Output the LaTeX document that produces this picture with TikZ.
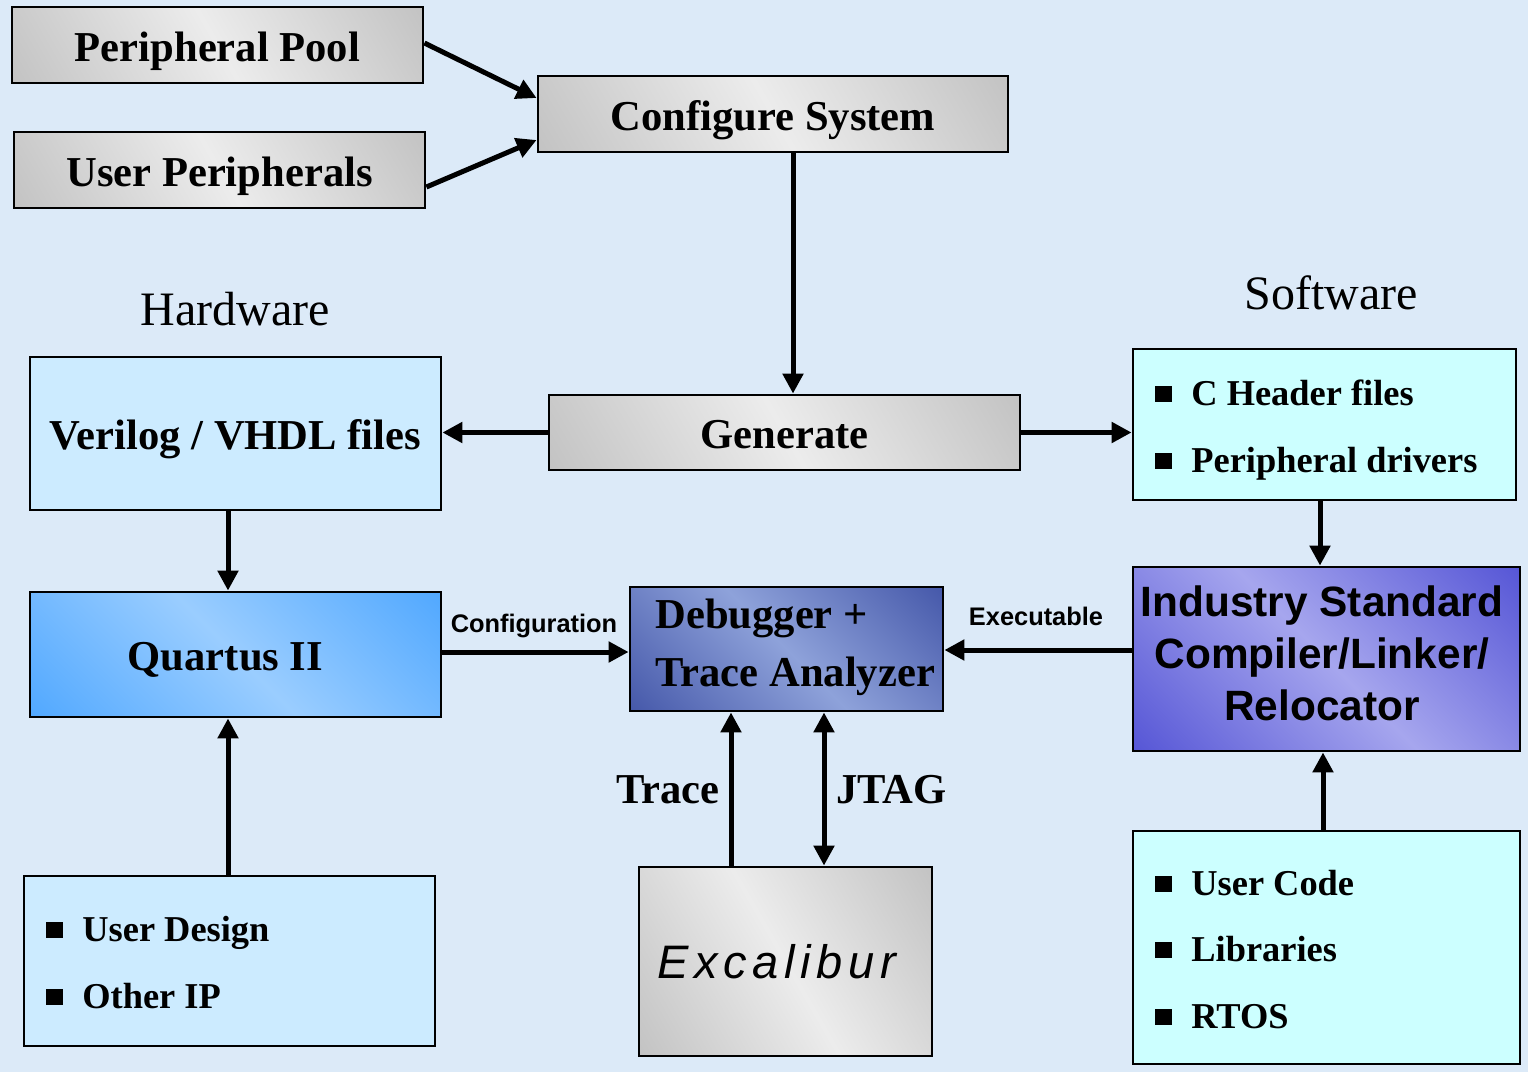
\documentclass[tikz,border=0pt]{standalone}
\usepackage{fontspec}
\setmainfont{Liberation Serif}
\newfontfamily\arialf{Liberation Sans}
\newfontfamily\excf[LetterSpace=12]{Liberation Sans}
\usetikzlibrary{arrows.meta}
\definecolor{bgc}{HTML}{DCEAF8}
\definecolor{verc}{HTML}{CCEBFF}
\definecolor{chc}{HTML}{CCFFFF}
\definecolor{gdark}{HTML}{B0B0B0}
\definecolor{glight}{HTML}{ECECEC}
\definecolor{qdark}{HTML}{3399FF}
\definecolor{qlight}{HTML}{9ACDFF}
\definecolor{ddark}{HTML}{283A96}
\definecolor{dlight}{HTML}{8EA2DA}
\definecolor{idark}{HTML}{3535CC}
\definecolor{ilight}{HTML}{A6A6EE}
\pgfdeclarehorizontalshading{grayshade}{100bp}{color(0bp)=(gdark); color(50bp)=(glight); color(100bp)=(gdark)}
\pgfdeclarehorizontalshading{qushade}{100bp}{color(0bp)=(qdark); color(50bp)=(qlight); color(100bp)=(qdark)}
\pgfdeclarehorizontalshading{dbgshade}{100bp}{color(0bp)=(ddark); color(50bp)=(dlight); color(100bp)=(ddark)}
\pgfdeclarehorizontalshading{indshade}{100bp}{color(0bp)=(idark); color(50bp)=(ilight); color(100bp)=(idark)}
\newcommand\mybul{\rule[1.5pt]{8.5pt}{8pt}\hspace{9.5pt}}
\begin{document}
\begin{tikzpicture}[x=0.5pt, y=-0.5pt,
  box/.style={draw=black, line width=1.4pt, inner sep=0pt, text height=19pt, text depth=3pt,
    font=\fontsize{21.3}{25}\selectfont\bfseries},
  graybox/.style={shading=grayshade, shading angle=30},
  qubox/.style={shading=qushade, shading angle=45},
  dbgbox/.style={shading=dbgshade, shading angle=45},
  indbox/.style={shading=indshade, shading angle=45},
  btxt/.style={inner sep=0pt, font=\fontsize{21.3}{25}\selectfont\bfseries},
  itxt/.style={inner sep=0pt, font=\fontsize{21.2}{25}\selectfont\arialf\bfseries},
  bul/.style={inner sep=0pt, anchor=base west, font=\fontsize{18.2}{22}\selectfont\bfseries},
  side/.style={inner sep=0pt, anchor=base, font=\fontsize{24}{28}\selectfont},
  small/.style={inner sep=0pt, anchor=base, font=\fontsize{12.7}{15}\selectfont\arialf\bfseries},
  arr/.style={line width=2.5pt, -{Triangle[length=10pt,width=10pt]}},
  darr/.style={line width=2.5pt, {Triangle[length=10pt,width=10pt]}-{Triangle[length=10pt,width=10pt]}}
]
\fill[bgc] (0,0) rectangle (1528,1072);

% boxes
\node[box, graybox, minimum width=205.5pt, minimum height=38pt] (pp) at (217.5,45) {Peripheral Pool};
\node[box, graybox, minimum width=205.5pt, minimum height=38pt] (up) at (219.5,170) {User Peripherals};
\node[box, graybox, minimum width=235pt, minimum height=38pt] (cs) at (773,114) {Configure System};
\node[box, graybox, minimum width=235.5pt, minimum height=37.5pt] (gen) at (784.5,432.5) {Generate};
\node[box, fill=verc, minimum width=205.5pt, minimum height=76.5pt] (ver) at (235.5,433.5) {Verilog / VHDL files};
\node[box, fill=chc, minimum width=191.5pt, minimum height=75.5pt] (ch) at (1324.5,424.5) {};
\node[box, qubox, minimum width=205.5pt, minimum height=62.5pt] (qu) at (235.5,654.5) {Quartus II\hspace*{10pt}};
\node[box, dbgbox, minimum width=156.5pt, minimum height=62pt] (dbg) at (786.5,649) {};
\node[box, indbox, minimum width=193.5pt, minimum height=92pt] (ind) at (1326.5,659) {};
\node[box, fill=chc, minimum width=193.5pt, minimum height=116.5pt] (uc) at (1326.5,947.5) {};
\node[box, fill=verc, minimum width=205.5pt, minimum height=85pt] (ud) at (229.5,961) {};
\node[box, graybox, minimum width=146.5pt, minimum height=94.5pt] (exc) at (785.5,961.5) {};

% texts inside boxes
\node[btxt, anchor=base west] (dbg1) at (655,628) {Debugger +};
\node[btxt, anchor=base west] (dbg2) at (655,686) {Trace Analyzer};
\node[itxt, anchor=base] (ind1) at (1322,616) {Industry Standard};
\node[itxt, anchor=base] (ind2) at (1322,668) {Compiler/Linker/};
\node[itxt, anchor=base] (ind3) at (1322,720) {Relocator};
\node[inner sep=0pt, anchor=base west, font=\fontsize{23.5}{27}\selectfont\excf\itshape] (exct) at (657,978) {Excalibur};
\node[bul] (ch1) at (1155,405) {\mybul C Header files};
\node[bul] (ch2) at (1155,472) {\mybul Peripheral drivers};
\node[bul] (uc1) at (1155,895) {\mybul User Code};
\node[bul] (uc2) at (1155,961) {\mybul Libraries};
\node[bul] (uc3) at (1155,1028) {\mybul RTOS};
\node[bul] (ud1) at (46,941) {\mybul User Design};
\node[bul] (ud2) at (46,1008) {\mybul Other IP};

% side labels
\node[side] (hw) at (235,325) {Hardware};
\node[side] (sw) at (1331,309) {Software};
\node[small] (cfg) at (534,632) {Configuration};
\node[small] (exe) at (1036,625) {Executable};
\node[btxt, anchor=base east] (trl) at (720,803) {Trace};
\node[btxt, anchor=base west] (jtl) at (836,803) {JTAG};

% connectors
\draw[arr] ([yshift=1pt]pp.east) -- ([yshift=8pt]cs.west);
\draw[arr] ([yshift=-8.5pt]up.east) -- ([yshift=-13pt]cs.west);
\draw[arr] ([xshift=10pt]cs.south) -- ([xshift=10pt]cs.south |- gen.north);
\draw[arr] (gen.west) -- (gen.west -| ver.east);
\draw[arr] (gen.east) -- (gen.east -| ch.west);
\draw[arr] ([xshift=-3.75pt]ver.south) -- ([xshift=-3.75pt]ver.south |- qu.north);
\draw[arr] ([xshift=-0.75pt]ud.north) -- ([xshift=-0.75pt]ud.north |- qu.south);
\draw[arr] ([yshift=1.25pt]qu.east) -- ([yshift=1.25pt]qu.east -| dbg.west);
\draw[arr] ([yshift=4.5pt]ind.west) -- ([yshift=4.5pt]ind.west -| dbg.east);
\draw[arr] ([xshift=-2.25pt]ch.south) -- ([xshift=-2.25pt]ch.south |- ind.north);
\draw[arr] ([xshift=-1.75pt]uc.north) -- ([xshift=-1.75pt]uc.north |- ind.south);
\draw[arr] ([xshift=-27.25pt]exc.north) -- ([xshift=-27.25pt]exc.north |- dbg.south);
\draw[darr] ([xshift=19.25pt]exc.north) -- ([xshift=19.25pt]exc.north |- dbg.south);
\end{tikzpicture}
\end{document}
